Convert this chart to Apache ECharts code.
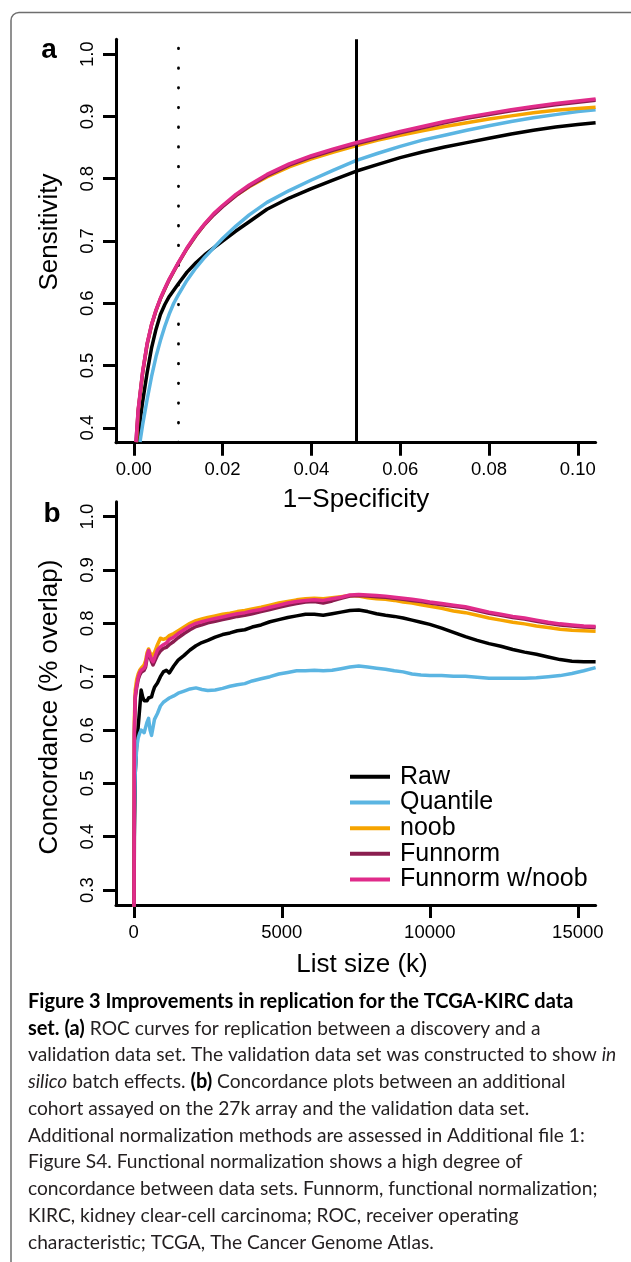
<!DOCTYPE html>
<html>
<head>
<meta charset="utf-8">
<script src="https://cdn.jsdelivr.net/npm/echarts@6/dist/echarts.min.js"></script>
<style>
html,body{margin:0;padding:0;background:#fff;}
#chart{width:631px;height:1262px;}
</style>
</head>
<body>
<div id="chart"></div>
<script>
// ---------- DATA ----------
const seriesNames = ['Raw', 'Quantile', 'noob', 'Funnorm', 'Funnorm w/noob'];
const seriesColors = ['#000000', '#5bb5e2', '#f6a400', '#8a1d4f', '#e02b8a'];

// Panel a: ROC curves [1-specificity, sensitivity]
const rocRaw = [[0.0010,0.377],[0.0015,0.415],[0.002,0.442],[0.003,0.488],[0.004,0.528],[0.005,0.558],[0.006,0.582],[0.007,0.598],[0.008,0.611],[0.009,0.621],[0.010,0.631],[0.012,0.650],[0.014,0.665],[0.016,0.678],[0.018,0.689],[0.020,0.700],[0.023,0.716],[0.026,0.731],[0.030,0.751],[0.035,0.769],[0.040,0.784],[0.045,0.798],[0.050,0.812],[0.055,0.823],[0.060,0.834],[0.065,0.843],[0.070,0.851],[0.075,0.858],[0.080,0.865],[0.085,0.872],[0.090,0.878],[0.095,0.883],[0.100,0.887],[0.104,0.890]];
const rocQuantile = [[0.0014,0.377],[0.002,0.405],[0.003,0.445],[0.004,0.482],[0.005,0.514],[0.006,0.540],[0.007,0.563],[0.008,0.583],[0.009,0.600],[0.010,0.613],[0.012,0.637],[0.014,0.657],[0.016,0.674],[0.018,0.689],[0.020,0.704],[0.023,0.724],[0.026,0.742],[0.030,0.762],[0.035,0.781],[0.040,0.798],[0.045,0.814],[0.050,0.829],[0.055,0.841],[0.060,0.852],[0.065,0.862],[0.070,0.870],[0.075,0.878],[0.080,0.885],[0.085,0.892],[0.090,0.898],[0.095,0.903],[0.100,0.908],[0.104,0.911]];
const rocNoob = [[0.0006,0.377],[0.001,0.427],[0.002,0.488],[0.003,0.533],[0.004,0.565],[0.005,0.588],[0.006,0.607],[0.007,0.623],[0.008,0.638],[0.009,0.651],[0.010,0.664],[0.012,0.688],[0.014,0.709],[0.016,0.727],[0.018,0.743],[0.020,0.756],[0.023,0.773],[0.026,0.787],[0.030,0.803],[0.035,0.819],[0.040,0.832],[0.045,0.843],[0.050,0.853],[0.055,0.862],[0.060,0.870],[0.065,0.877],[0.070,0.884],[0.075,0.890],[0.080,0.896],[0.085,0.901],[0.090,0.906],[0.095,0.910],[0.100,0.913],[0.104,0.915]];
const rocFunnorm = [[0.0005,0.377],[0.001,0.428],[0.002,0.489],[0.003,0.534],[0.004,0.565],[0.005,0.588],[0.006,0.607],[0.007,0.623],[0.008,0.638],[0.009,0.651],[0.010,0.664],[0.012,0.688],[0.014,0.709],[0.016,0.727],[0.018,0.742],[0.020,0.755],[0.023,0.773],[0.026,0.788],[0.030,0.805],[0.035,0.822],[0.040,0.835],[0.045,0.846],[0.050,0.856],[0.055,0.865],[0.060,0.874],[0.065,0.882],[0.070,0.890],[0.075,0.897],[0.080,0.903],[0.085,0.909],[0.090,0.914],[0.095,0.919],[0.100,0.923],[0.104,0.926]];
const rocFunnormNoob = [[0.0005,0.377],[0.001,0.430],[0.002,0.490],[0.003,0.535],[0.004,0.566],[0.005,0.589],[0.006,0.608],[0.007,0.624],[0.008,0.639],[0.009,0.652],[0.010,0.665],[0.012,0.689],[0.014,0.710],[0.016,0.728],[0.018,0.744],[0.020,0.757],[0.023,0.775],[0.026,0.790],[0.030,0.807],[0.035,0.824],[0.040,0.837],[0.045,0.848],[0.050,0.858],[0.055,0.867],[0.060,0.876],[0.065,0.884],[0.070,0.892],[0.075,0.899],[0.080,0.905],[0.085,0.911],[0.090,0.916],[0.095,0.921],[0.100,0.925],[0.104,0.928]];
const rocRefLines = [0.01, 0.05];
const rocXTicks = [0, 0.02, 0.04, 0.06, 0.08, 0.10];
const rocYTicks = [0.4, 0.5, 0.6, 0.7, 0.8, 0.9, 1.0];

// Panel b: concordance vs list size
const listSize = [0,20,50,100,150,200,250,300,350,400,450,500,550,600,650,700,800,900,1000,1100,1200,1350,1500,1700,1900,2100,2300,2500,2750,3000,3250,3500,3750,4000,4300,4600,4900,5200,5500,5800,6100,6400,6700,7000,7300,7600,7900,8200,8500,8800,9100,9400,9700,10000,10400,10800,11200,11600,12000,12400,12800,13200,13600,14000,14400,14800,15200,15600];
const concRaw = [0.0,0.40,0.52,0.575,0.607,0.640,0.675,0.662,0.655,0.657,0.655,0.660,0.662,0.662,0.672,0.680,0.688,0.700,0.709,0.712,0.707,0.720,0.731,0.740,0.750,0.758,0.764,0.768,0.774,0.779,0.782,0.786,0.788,0.793,0.797,0.803,0.807,0.811,0.814,0.817,0.817,0.815,0.818,0.821,0.824,0.825,0.822,0.818,0.815,0.813,0.810,0.806,0.802,0.798,0.791,0.783,0.775,0.768,0.762,0.757,0.751,0.746,0.742,0.737,0.732,0.729,0.728,0.728];
const concQuantile = [0.0,0.45,0.519,0.568,0.585,0.594,0.600,0.597,0.595,0.605,0.615,0.622,0.600,0.590,0.605,0.620,0.631,0.645,0.652,0.656,0.660,0.664,0.669,0.673,0.677,0.679,0.676,0.674,0.675,0.678,0.682,0.685,0.687,0.692,0.696,0.700,0.705,0.708,0.711,0.711,0.712,0.711,0.712,0.715,0.718,0.720,0.718,0.716,0.714,0.711,0.709,0.705,0.703,0.702,0.702,0.701,0.701,0.699,0.697,0.697,0.697,0.697,0.698,0.700,0.702,0.706,0.711,0.717];
const concNoob = [0.0,0.62,0.675,0.695,0.705,0.712,0.716,0.718,0.722,0.730,0.745,0.752,0.745,0.738,0.735,0.745,0.760,0.772,0.770,0.772,0.777,0.781,0.786,0.793,0.800,0.805,0.808,0.811,0.814,0.817,0.819,0.822,0.824,0.827,0.830,0.834,0.838,0.841,0.844,0.846,0.847,0.846,0.848,0.850,0.852,0.851,0.848,0.846,0.845,0.843,0.840,0.838,0.835,0.832,0.828,0.823,0.820,0.815,0.810,0.806,0.802,0.799,0.795,0.792,0.789,0.787,0.786,0.785];
const concFunnorm = [0.0,0.59,0.66,0.680,0.695,0.703,0.708,0.710,0.712,0.718,0.735,0.745,0.736,0.728,0.722,0.728,0.740,0.748,0.753,0.755,0.760,0.766,0.773,0.781,0.788,0.794,0.797,0.801,0.804,0.807,0.810,0.813,0.815,0.818,0.822,0.826,0.830,0.834,0.837,0.840,0.841,0.838,0.842,0.847,0.851,0.852,0.851,0.850,0.849,0.847,0.845,0.843,0.841,0.838,0.835,0.832,0.829,0.824,0.819,0.815,0.811,0.808,0.804,0.800,0.797,0.795,0.793,0.792];
const concFunnormNoob = [0.0,0.60,0.665,0.684,0.699,0.708,0.712,0.714,0.716,0.722,0.740,0.749,0.740,0.732,0.728,0.735,0.750,0.756,0.760,0.763,0.770,0.774,0.781,0.788,0.795,0.800,0.803,0.806,0.809,0.812,0.815,0.818,0.820,0.823,0.826,0.830,0.834,0.838,0.841,0.843,0.844,0.843,0.846,0.849,0.853,0.854,0.853,0.852,0.851,0.849,0.847,0.845,0.843,0.840,0.837,0.834,0.831,0.826,0.821,0.817,0.813,0.810,0.806,0.802,0.799,0.797,0.795,0.794];
const concXTicks = [0, 5000, 10000, 15000];
const concYTicks = [0.3, 0.4, 0.5, 0.6, 0.7, 0.8, 0.9, 1.0];

const captionLines = [
  '{b|Figure 3 Improvements in replication for the TCGA-KIRC data}',
  '{b|set. (a)} ROC curves for replication between a discovery and a',
  'validation data set. The validation data set was constructed to show {i|in}',
  '{i|silico} batch effects. {b|(b)} Concordance plots between an additional',
  'cohort assayed on the 27k array and the validation data set.',
  'Additional normalization methods are assessed in Additional file 1:',
  'Figure S4. Functional normalization shows a high degree of',
  'concordance between data sets. Funnorm, functional normalization;',
  'KIRC, kidney clear-cell carcinoma; ROC, receiver operating',
  'characteristic; TCGA, The Cancer Genome Atlas.'
];

// ---------- CHART ----------
const FONT = '"Liberation Sans", Arial, Helvetica, sans-serif';
const CAP_FONT = 'Lato, "Open Sans", sans-serif';
const chart = echarts.init(document.getElementById('chart'), null, {renderer: 'canvas'});

function xAxisCfg(grid, min, max, ticks, fmt) {
  return {
    type: 'value', gridIndex: grid, min: min, max: max,
    axisLine: {show: true, onZero: false, lineStyle: {color: '#000', width: 3}},
    axisTick: {show: true, customValues: ticks, length: 13, lineStyle: {color: '#000', width: 3}},
    axisLabel: {customValues: ticks, formatter: fmt, fontSize: 18.5, color: '#000', fontFamily: FONT, margin: 18},
    splitLine: {show: false}
  };
}
function yAxisCfg(grid, min, max, ticks) {
  return {
    type: 'value', gridIndex: grid, min: min, max: max,
    axisLine: {show: true, onZero: false, lineStyle: {color: '#000', width: 3}},
    axisTick: {show: true, customValues: ticks, length: 13, lineStyle: {color: '#000', width: 3}},
    axisLabel: {customValues: ticks, formatter: v => v.toFixed(1), rotate: 90, fontSize: 18.5, color: '#000', fontFamily: FONT, margin: 19},
    splitLine: {show: false}
  };
}

const rocSets = [rocRaw, rocQuantile, rocNoob, rocFunnorm, rocFunnormNoob];
const concSets = [concRaw, concQuantile, concNoob, concFunnorm, concFunnormNoob];

const series = [];
rocSets.forEach((d, i) => {
  series.push({
    name: seriesNames[i], type: 'line', xAxisIndex: 0, yAxisIndex: 0,
    data: d, symbol: 'none', smooth: false,
    lineStyle: {color: seriesColors[i], width: 3.5, join: 'round'}, itemStyle: {color: seriesColors[i]},
    z: 2 + i, animation: false
  });
});
// reference lines at 1-specificity = 0.01 (dotted) and 0.05 (solid)
series.push({
  type: 'line', xAxisIndex: 0, yAxisIndex: 0, data: [], silent: true, z: 10,
  markLine: {
    silent: true, symbol: 'none', animation: false, label: {show: false},
    data: [
      {xAxis: rocRefLines[0], lineStyle: {color: '#000', width: 2.8, type: [0.5, 19.2], cap: 'round'}},
      {xAxis: rocRefLines[1], lineStyle: {color: '#000', width: 3, type: 'solid'}}
    ]
  }
});
concSets.forEach((vals, i) => {
  series.push({
    name: seriesNames[i], type: 'line', xAxisIndex: 1, yAxisIndex: 1,
    data: listSize.map((k, j) => [k, vals[j]]), symbol: 'none',
    lineStyle: {color: seriesColors[i], width: 3.5, join: 'round'}, itemStyle: {color: seriesColors[i]},
    z: 2 + i, animation: false
  });
});

const graphics = [
  {type: 'rect', silent: true, z: -10, shape: {x: 11, y: 12.5, width: 800, height: 1400, r: 8},
   style: {fill: 'none', stroke: '#6e6e6e', lineWidth: 1.5}},
  {type: 'text', x: 49, y: 50, style: {text: 'a', fontSize: 28, fontWeight: 'bold', fontFamily: FONT, fill: '#000', align: 'center', verticalAlign: 'middle'}},
  {type: 'text', x: 52, y: 514, style: {text: 'b', fontSize: 28, fontWeight: 'bold', fontFamily: FONT, fill: '#000', align: 'center', verticalAlign: 'middle'}},
  {type: 'text', x: 356, y: 500, style: {text: '1\u2212Specificity', fontSize: 26, fontFamily: FONT, fill: '#000', align: 'center', verticalAlign: 'middle'}},
  {type: 'text', x: 50, y: 232, rotation: Math.PI / 2, style: {text: 'Sensitivity', fontSize: 26, fontFamily: FONT, fill: '#000', align: 'center', verticalAlign: 'middle'}},
  {type: 'text', x: 362, y: 965, style: {text: 'List size (k)', fontSize: 26, fontFamily: FONT, fill: '#000', align: 'center', verticalAlign: 'middle'}},
  {type: 'text', x: 50, y: 707, rotation: Math.PI / 2, style: {text: 'Concordance (% overlap)', fontSize: 26, fontFamily: FONT, fill: '#000', align: 'center', verticalAlign: 'middle'}}
];
const capRich = {
  b: {fontWeight: 'bold', fontSize: 20, fontFamily: CAP_FONT, fill: '#000'},
  i: {fontStyle: 'italic', fontSize: 19.2, fontFamily: CAP_FONT, fill: '#231f20'}
};
captionLines.forEach((line, i) => {
  graphics.push({type: 'text', x: 28, y: 1001.7 + 26.74 * i,
    style: {text: line, rich: capRich, fontSize: 19.2, fontFamily: CAP_FONT, fill: '#231f20', align: 'left', verticalAlign: 'middle'}});
});

chart.setOption({
  animation: false,
  backgroundColor: '#fff',
  grid: [
    {left: 116, top: 39.3, width: 479.6, height: 403.4},
    {left: 116, top: 501.7, width: 479.6, height: 403.3}
  ],
  xAxis: [
    xAxisCfg(0, -0.004, 0.104, rocXTicks, v => v.toFixed(2)),
    xAxisCfg(1, -600, 15600, concXTicks, v => String(v))
  ],
  yAxis: [
    yAxisCfg(0, 0.376, 1.024, rocYTicks),
    yAxisCfg(1, 0.272, 1.028, concYTicks)
  ],
  legend: {
    data: seriesNames, orient: 'vertical', left: 350, top: 764, itemGap: 0, padding: 0,
    icon: 'rect', itemWidth: 40, itemHeight: 4, selectedMode: false,
    textStyle: {fontSize: 25, lineHeight: 25.65, color: '#000', fontFamily: FONT, padding: [0, 0, 0, 5]}
  },
  series: series,
  graphic: graphics
});
</script>
</body>
</html>
